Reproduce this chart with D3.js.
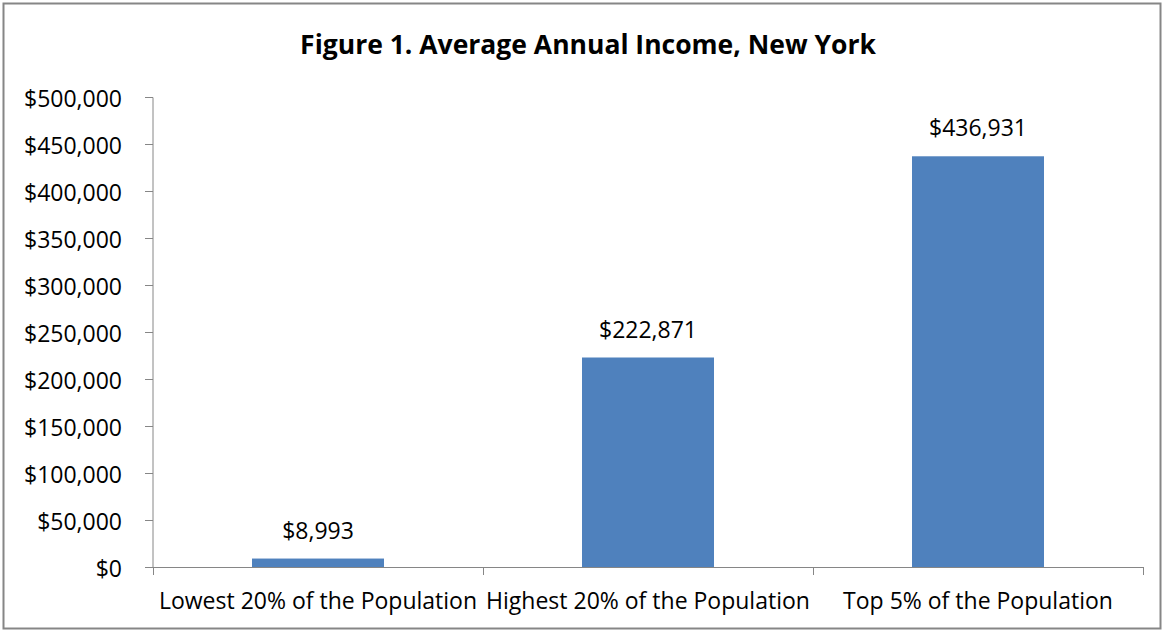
<!DOCTYPE html>
<html>
<head>
<meta charset="utf-8">
<script src="https://cdn.jsdelivr.net/npm/d3@7"></script>
<style>
  body { margin: 0; background: #fff; }
  text { font-family: "Open Sans", Lato, sans-serif; fill: #000; }
  .axis path, .axis line { stroke: #868686; }
</style>
</head>
<body>
<div id="wrapper"></div>
<script>
const categories = ["Lowest 20% of the Population", "Highest 20% of the Population", "Top 5% of the Population"];
const incomes = [8993, 222871, 436931];
const yTicks = [0, 50000, 100000, 150000, 200000, 250000, 300000, 350000, 400000, 450000, 500000];
const title = "Figure 1. Average Annual Income, New York";

const width = 1164;
const height = 632;
let dimensions = {
    width: width,
    height: height,
    margin: { top: 97, right: 21, bottom: 65, left: 153 },
};
dimensions.boundedWidth = dimensions.width - dimensions.margin.left - dimensions.margin.right;
dimensions.boundedHeight = dimensions.height - dimensions.margin.top - dimensions.margin.bottom;

const svg = d3.select("#wrapper")
    .append("svg")
    .attr("width", dimensions.width)
    .attr("height", dimensions.height);

// chart border
svg.append("rect")
    .attr("x", 3.5).attr("y", 3.5)
    .attr("width", width - 7).attr("height", height - 7)
    .attr("fill", "#fff")
    .attr("stroke", "#868686")
    .attr("stroke-width", 2);

svg.append("text")
    .attr("x", 588)
    .attr("y", 54)
    .attr("text-anchor", "middle")
    .style("font-size", "26.5px")
    .style("font-weight", "bold")
    .text(title);

const bounds = svg.append("g")
    .attr("transform", `translate(${dimensions.margin.left}, ${dimensions.margin.top})`);

const xScale = d3.scaleBand()
    .domain(categories)
    .range([0, dimensions.boundedWidth])
    .paddingInner(0.6)
    .paddingOuter(0.3);

const yScale = d3.scaleLinear()
    .domain([0, 500000])
    .range([dimensions.boundedHeight, 0]);

// y axis
const yAxis = bounds.append("g")
    .attr("class", "axis")
    .call(d3.axisLeft(yScale)
        .tickValues(yTicks)
        .tickSize(8)
        .tickPadding(23)
        .tickFormat(d => "$" + d3.format(",")(d)));
yAxis.select(".domain").attr("d", `M0,0.5V${dimensions.boundedHeight}`);
yAxis.selectAll("text").style("font-size", "23px").attr("dy", "0.4em");

// x axis with boundary ticks like a category axis
const xAxisG = bounds.append("g")
    .attr("class", "axis")
    .attr("transform", `translate(0, ${dimensions.boundedHeight})`);
xAxisG.append("line")
    .attr("x1", -8).attr("x2", dimensions.boundedWidth)
    .attr("y1", 0.5).attr("y2", 0.5);
const step = dimensions.boundedWidth / categories.length;
d3.range(categories.length + 1).forEach(i => {
    xAxisG.append("line")
        .attr("x1", Math.round(i * step) + 0.5).attr("x2", Math.round(i * step) + 0.5)
        .attr("y1", 0).attr("y2", 8);
});
categories.forEach(c => {
    xAxisG.append("text")
        .attr("x", xScale(c) + xScale.bandwidth() / 2)
        .attr("y", 42)
        .attr("text-anchor", "middle")
        .style("font-size", "23px")
        .text(c);
});

// bars
bounds.selectAll(".bar")
    .data(incomes)
    .join("rect")
    .attr("class", "bar")
    .attr("x", (d, i) => xScale(categories[i]))
    .attr("y", d => yScale(d))
    .attr("width", xScale.bandwidth())
    .attr("height", d => dimensions.boundedHeight - yScale(d))
    .attr("fill", "#4F81BD");

// value labels
bounds.selectAll(".value")
    .data(incomes)
    .join("text")
    .attr("class", "value")
    .attr("x", (d, i) => xScale(categories[i]) + xScale.bandwidth() / 2)
    .attr("y", d => yScale(d) - 20)
    .attr("text-anchor", "middle")
    .style("font-size", "23px")
    .text(d => "$" + d3.format(",")(d));
</script>
</body>
</html>
